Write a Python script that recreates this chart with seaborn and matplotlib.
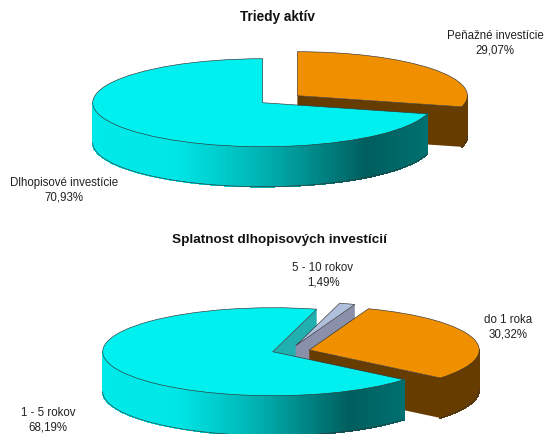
# -*- coding: utf-8 -*-
# 3D-look pie charts, one figure with two pies
import numpy as np
import seaborn as sns
import matplotlib.pyplot as plt
from matplotlib.colors import LinearSegmentedColormap
from matplotlib.collections import PolyCollection

# data
assets_labels = ['Dlhopisové investície', 'Peňažné investície']
assets_values = [70.93, 29.07]
maturity_labels = ['1 - 5 rokov', 'do 1 roka', '5 - 10 rokov']
maturity_values = [68.19, 30.32, 1.49]
title_top = 'Triedy aktív'
title_bottom = 'Splatnost dlhopisových investícií'

W, H = 545, 434
RX, RY = 170, 44   # ellipse radii in px
DEPTH = 40 / RY    # height of the pie in data units

TOP_COLORS = ['#00f0f0', '#f09000', '#b0c0dc']
FACE_COLORS = ['#20b0b0', '#663c00', '#8a90aa']
RIM_BROWN = '#663c00'

cyan_rim = LinearSegmentedColormap.from_list('rim', [
    (0.0, '#00eaea'), (0.25, '#00e6e6'), (0.5, '#00b4b4'),
    (0.82, '#005e5e'), (1.0, '#007070')])

sns.set_theme(style='white')
plt.rcParams['font.family'] = ['Liberation Sans', 'DejaVu Sans']

fig = plt.figure(figsize=(W / 100, H / 100), dpi=100)


def px(x, y):
    return x / W, 1 - y / H


def draw_pie(ax_box, cx, cy, values, start, offsets, order):
    y0, y1 = ax_box
    ax = fig.add_axes([0, 1 - y1 / H, 1, (y1 - y0) / H])
    wedges, _ = ax.pie(values, startangle=start, colors=TOP_COLORS[:len(values)],
                       wedgeprops=dict(edgecolor='#333333', linewidth=0.45))
    ax.set_aspect('auto')
    ax.set_xlim(-cx / RX, (W - cx) / RX)
    ax.set_ylim((cy - y1) / RY, (cy - y0) / RY)

    for i, w in enumerate(wedges):
        ox, oy = offsets[i]
        w.set_center((ox, oy))
        z = order[i]
        w.set_zorder(z + 0.2)

        # straight cut face at the clockwise edge of the slice
        t1 = np.deg2rad(w.theta1)
        if np.cos(t1) > 1e-6:
            ex, ey = ox + np.cos(t1), oy + np.sin(t1)
            ax.fill([ox, ex, ex, ox], [oy, ey, ey - DEPTH, oy - DEPTH],
                    color=FACE_COLORS[i], lw=0, zorder=1 if i == 0 else z)

        # outer rim, only the part turned to the viewer
        a = max(w.theta1, 180)
        b = min(w.theta2, 360)
        if b > a:
            t = np.deg2rad(np.linspace(a, b, 160))
            xs, ys = ox + np.cos(t), oy + np.sin(t)
            quads = [[(xs[k], ys[k]), (xs[k + 1], ys[k + 1]),
                      (xs[k + 1], ys[k + 1] - DEPTH), (xs[k], ys[k] - DEPTH)]
                     for k in range(len(t) - 1)]
            if i == 0:
                cols = cyan_rim((xs[:-1] + 1) / (xs[-1] + 1))
            else:
                cols = RIM_BROWN
            ax.add_collection(PolyCollection(quads, facecolors=cols, edgecolors=cols,
                                             linewidths=0.6, antialiased=False,
                                             zorder=z + 0.1))
            ax.plot(xs, ys - DEPTH, color='#333333', lw=0.45, zorder=z + 0.15)
    return ax


def pct(v):
    return f'{v:.2f}'.replace('.', ',') + '%'


ax1 = draw_pie((0, 220), 262.7, 102.7, assets_values, 90,
               [(0, 0), (0.204, 0.159)], [4, 3])
ax2 = draw_pie((220, H), 272.7, 351.7, maturity_values, 75,
               [(0, 0), (0.215, 0.039), (0.135, 0.136)], [4, 3, 2])

fig.text(*px(278, 17), title_top, ha='center', va='center',
         fontsize=9.8, fontweight='bold', color='#111111')
fig.text(*px(279, 240), title_bottom, ha='center', va='center',
         fontsize=9.7, fontweight='bold', color='#111111')

label_style = dict(ha='center', va='center', fontsize=8.3, color='#222222',
                   linespacing=1.25)
fig.text(*px(495, 43), f'{assets_labels[1]}\n{pct(assets_values[1])}', **label_style)
fig.text(*px(64, 190), f'{assets_labels[0]}\n{pct(assets_values[0])}', **label_style)
fig.text(*px(323, 275), f'{maturity_labels[2]}\n{pct(maturity_values[2])}', **label_style)
fig.text(*px(508, 327), f'{maturity_labels[1]}\n{pct(maturity_values[1])}', **label_style)
fig.text(*px(48, 420), f'{maturity_labels[0]}\n{pct(maturity_values[0])}', **label_style)

plt.savefig('out.png', dpi=100)
plt.close()
